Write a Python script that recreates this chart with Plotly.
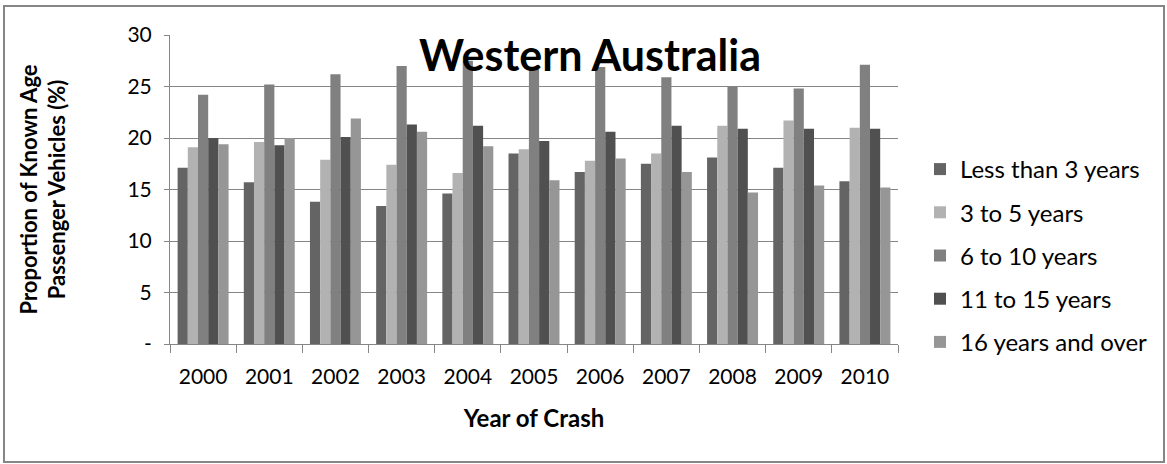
import plotly.graph_objects as go

years = ["2000", "2001", "2002", "2003", "2004", "2005", "2006", "2007", "2008", "2009", "2010"]

less_than_3 = [17.1, 15.7, 13.8, 13.4, 14.6, 18.5, 16.7, 17.5, 18.1, 17.1, 15.8]
three_to_5 = [19.1, 19.6, 17.9, 17.4, 16.6, 18.9, 17.8, 18.5, 21.2, 21.7, 21.0]
six_to_10 = [24.2, 25.2, 26.2, 27.0, 27.5, 26.9, 26.9, 25.9, 25.0, 24.8, 27.1]
eleven_to_15 = [20.0, 19.3, 20.1, 21.3, 21.2, 19.7, 20.6, 21.2, 20.9, 20.9, 20.9]
sixteen_plus = [19.4, 20.0, 21.9, 20.6, 19.2, 15.9, 18.0, 16.7, 14.7, 15.4, 15.2]

series = [
    ("Less than 3 years", less_than_3, "#646464"),
    ("3 to 5 years", three_to_5, "#b2b2b2"),
    ("6 to 10 years", six_to_10, "#808080"),
    ("11 to 15 years", eleven_to_15, "#505050"),
    ("16 years and over", sixteen_plus, "#969696"),
]

y_ticks = [0, 5, 10, 15, 20, 25, 30]
y_ticktext = ["-", "5", "10", "15", "20", "25", "30"]

FONT = "Lato, Calibri, Arial, sans-serif"

fig = go.Figure()
for name, vals, color in series:
    fig.add_trace(go.Bar(x=years, y=vals, name=name, legendgroup=name,
                         marker_color=color, marker_line_width=0))

# plot area is 728 x 309 px; outer chart border in paper coords
l, r, t, b = 170, 269, 35, 120
pw, ph = 1167 - l - r, 464 - t - b

fig.update_layout(
    width=1167, height=464,
    margin=dict(l=l, r=r, t=t, b=b),
    paper_bgcolor="white", plot_bgcolor="white",
    barmode="group", bargap=0.23, bargroupgap=0,
    font=dict(family=FONT, color="#000000"),
    title=dict(text="<b>Western Australia</b>", font=dict(size=43, family=FONT),
               x=(590 - l) / pw, xref="paper", xanchor="center",
               y=1 - 56 / 464, yanchor="middle"),
    legend=dict(x=(920 - l) / pw, y=(344 - 147) / ph, xanchor="left", yanchor="top",
                font=dict(size=24), tracegroupgap=9, itemwidth=30,
                traceorder="grouped", bgcolor="rgba(0,0,0,0)"),
    showlegend=True,
    shapes=[dict(type="rect", xref="paper", yref="paper",
                 x0=(4 - l) / pw, x1=(1164 - l) / pw,
                 y0=(344 - 462) / ph, y1=(344 - 6) / ph,
                 line=dict(color="#868686", width=2), layer="below")],
)

fig.update_xaxes(
    type="category", showline=True, linecolor="#868686", linewidth=1,
    ticks="outside", tickson="boundaries", ticklen=8, tickcolor="#868686",
    tickfont=dict(size=21), ticklabelstandoff=14, showgrid=False,
    title=dict(text="<b>Year of Crash</b>", font=dict(size=24), standoff=22),
)
fig.update_yaxes(
    range=[0, 30], tickvals=y_ticks, ticktext=y_ticktext,
    showline=True, linecolor="#868686", linewidth=1,
    ticks="outside", ticklen=5, tickcolor="#868686",
    showgrid=True, gridcolor="#868686", gridwidth=1,
    tickfont=dict(size=21), ticklabelstandoff=8, zeroline=False,
    title=dict(text="<b>Proportion of Known Age<br>Passenger Vehicles (%)</b>",
               font=dict(size=22), standoff=55),
)

fig.write_html("out.html", config={"displayModeBar": False},
               post_script="document.body.style.margin='0';")
